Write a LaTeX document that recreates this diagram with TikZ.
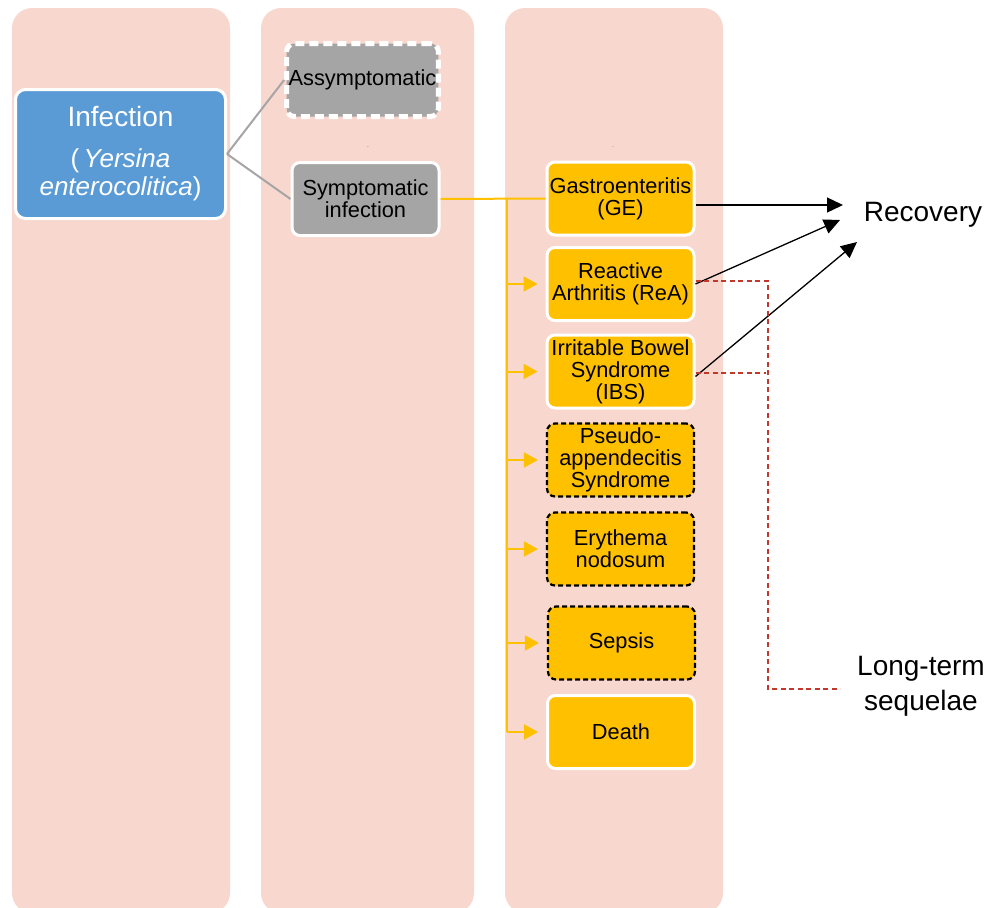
\documentclass[tikz,border=0pt]{standalone}
\usepackage{fontspec}
\setmainfont{Liberation Sans}
\usetikzlibrary{arrows.meta}
\definecolor{colbg}{HTML}{F8D8CE}
\definecolor{orng}{HTML}{FFC000}
\definecolor{blu}{HTML}{5B9BD5}
\definecolor{gry}{HTML}{A5A5A5}
\definecolor{dred}{HTML}{C0392B}
\begin{document}
\begin{tikzpicture}[x=1pt,y=-1pt,
 box/.style={rectangle, rounded corners=8pt, draw=white, line width=3pt, minimum width=147pt, minimum height=73pt, align=center, inner sep=2pt, font=\fontsize{21.8}{22}\selectfont, text=black},
 obox/.style={box, fill=orng},
 dbox/.style={obox, draw=black, line width=2.2pt, dash pattern=on 5pt off 3pt},
 gbox/.style={box, fill=gry},
 gline/.style={draw=gry, line width=2pt},
 oline/.style={draw=orng, line width=2pt},
 oarr/.style={oline, -{Triangle[length=14pt,width=15pt]}},
 barr/.style={draw=black, line width=1.3pt, -{Triangle[length=16pt,width=15pt]}},
 rdash/.style={draw=dred, line width=1.2pt, dash pattern=on 5pt off 3.5pt},
 big/.style={font=\fontsize{28}{35}\selectfont, align=center, text=black},
 dotlabel/.style={font=\fontsize{5}{5}\selectfont, inner sep=0pt}
]
\useasboundingbox (0,0) rectangle (1005,908);
\clip (0,0) rectangle (1005,908);
% columns
\fill[colbg, rounded corners=20pt] (12,8) rectangle (230,913);
\fill[colbg, rounded corners=20pt] (261,8) rectangle (474,913);
\fill[colbg, rounded corners=20pt] (505,8) rectangle (723,913);

% nodes
\node[rectangle, rounded corners=10pt, fill=blu, draw=white, line width=3pt, minimum width=210pt, minimum height=129pt, align=center, text=white, font=\fontsize{26}{28}\selectfont] (inf) at (120.5,154)
  {{\fontsize{28}{28}\selectfont Infection}\\[13pt](\,\textit{Yersina}\\\textit{enterocolitica})};
\node[gbox, draw=white, line width=5pt, dash pattern=on 9pt off 5pt, minimum width=148pt, minimum height=73pt] (asym) at (362.5,80) {Assymptomatic};
\node[gbox] (sym) at (365.5,199) {Symptomatic\\infection};
\node[dotlabel] (dot1) at (368,147) {.};
\node[dotlabel] (dot2) at (613,147) {.};

\node[obox] (ge) at (620.5,198.5) {Gastroenteritis\\(GE)};
\node[obox] (rea) at (620.5,284) {Reactive\\Arthritis (ReA)};
\node[obox] (ibs) at (620.5,371.5) {Irritable Bowel\\Syndrome\\(IBS)};
\node[dbox] (pseudo) at (620.5,460) {Pseudo-\\appendecitis\\Syndrome};
\node[dbox] (ery) at (620.5,549) {Erythema\\nodosum};
\node[dbox] (sep) at (621.5,643) {Sepsis};
\node[obox] (death) at (621,732) {Death};

\node[big] (rec) at (923,215) {Recovery};
\node[big] (lts) at (921,686) {Long-term\\sequelae};

% gray connectors
\draw[gline] (inf.east) -- (asym.west);
\draw[gline] (inf.east) -- (sym.west);

% orange connectors
\coordinate (trunk) at (507,199);
\draw[oline] (sym.east) -- (ge.west);
\draw[oline] (trunk) -- (trunk |- death.west);
\foreach \n in {rea,ibs,pseudo,ery,sep,death}{
  \draw[oarr] (trunk |- \n.west) -- ([xshift=-8pt]\n.west);
}

% recovery arrows
\coordinate (r1) at (843,205);
\coordinate (r2) at (840,220);
\coordinate (r3) at (857,242);
\draw[barr] ([yshift=-6.5pt]ge.east) -- (r1);
\draw[barr] (rea.east) -- (r2);
\draw[barr] ([yshift=-5pt]ibs.east) -- (r3);

% long-term sequelae dashed
\coordinate (lc) at (768,689);
\coordinate (le) at (840,689);
\draw[rdash] ([yshift=3pt]rea.east) -| (lc) -- (le);
\draw[rdash] ([yshift=-1.5pt]ibs.east) -- ++(70,0);
\end{tikzpicture}
\end{document}
